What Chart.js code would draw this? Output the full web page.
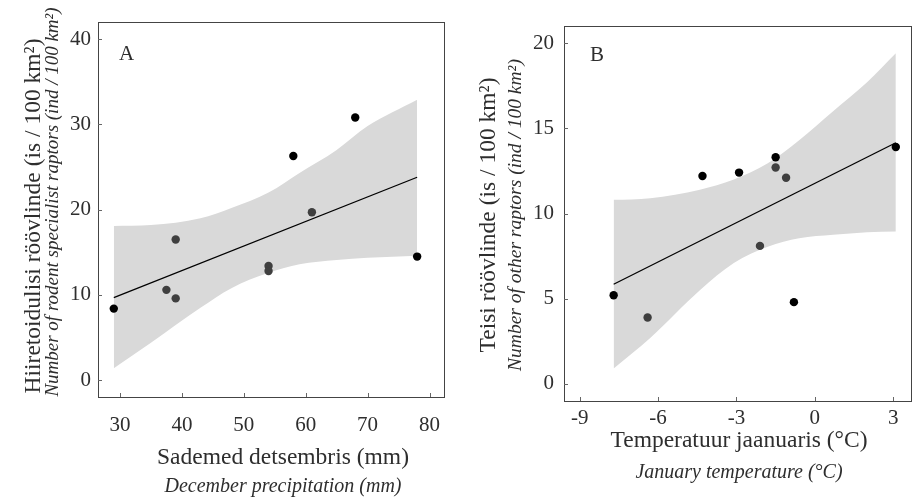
<!DOCTYPE html>
<html>
<head>
<meta charset="utf-8">
<script src="https://cdn.jsdelivr.net/npm/chart.js@4.4.1/dist/chart.umd.min.js"></script>
<style>
  html, body { margin: 0; padding: 0; background: #fff; }
  #wrap { position: relative; width: 912px; height: 502px; }
  canvas { position: absolute; top: 0; }
</style>
</head>
<body>
<div id="wrap">
  <canvas id="chartA" width="456" height="502" style="left:0"></canvas>
  <canvas id="chartB" width="456" height="502" style="left:456px"></canvas>
</div>
<script>
// Panel A: December precipitation vs rodent specialist raptors
const precipBlackX = [29, 58, 68, 78];
const precipBlackY = [8.4, 26.3, 30.8, 14.5];
const precipGreyX = [37.5, 39, 39, 54, 54, 61];
const precipGreyY = [10.6, 9.6, 16.5, 13.4, 12.8, 19.7];
const precipFitX = [29, 78];
const precipFitY = [9.7, 23.8];
const precipBandX = [29, 35, 43, 48, 54, 59, 65, 70, 78];
const precipBandUpper = [18.1, 18.2, 19.0, 20.2, 22.0, 24.3, 27.0, 29.8, 32.9];
const precipBandLower = [1.4, 4.4, 8.5, 10.8, 12.6, 13.6, 14.1, 14.35, 14.6];
const precipXTicks = [30, 40, 50, 60, 70, 80];
const precipYTicks = [0, 10, 20, 30, 40];

// Panel B: January temperature vs other raptors
const tempBlackX = [-7.7, -4.3, -2.9, -1.5, -0.8, 3.1];
const tempBlackY = [5.2, 12.2, 12.4, 13.3, 4.8, 13.9];
const tempGreyX = [-6.4, -2.1, -1.5, -1.1];
const tempGreyY = [3.9, 8.1, 12.7, 12.1];
const tempFitX = [-7.7, 3.1];
const tempFitY = [5.85, 14.15];
const tempBandX = [-7.7, -6.3, -4.4, -3.1, -1.8, -0.6, 0.7, 2.0, 3.1];
const tempBandUpper = [10.8, 10.9, 11.4, 12.0, 12.95, 14.3, 16.0, 17.7, 19.4];
const tempBandLower = [0.9, 2.7, 5.5, 7.1, 8.05, 8.55, 8.75, 8.9, 8.95];
const tempXTicks = [-9, -6, -3, 0, 3];
const tempYTicks = [0, 5, 10, 15, 20];

const SERIF = '"Liberation Serif", "DejaVu Serif", serif';
const TEXT = '#2e2e2e';

const pts = (xs, ys) => xs.map((x, i) => ({ x: x, y: ys[i] }));

// frame, inward ticks, axis titles and panel letter
const decor = {
  id: 'decor',
  afterDraw(chart, args, o) {
    const ctx = chart.ctx;
    const a = chart.chartArea;
    ctx.save();
    ctx.strokeStyle = '#444';
    ctx.lineWidth = 1;
    ctx.strokeRect(Math.round(a.left) + 0.5, Math.round(a.top) + 0.5,
      Math.round(a.right - a.left) - 1, Math.round(a.bottom - a.top));
    ctx.strokeStyle = '#666';
    ctx.beginPath();
    chart.scales.x.ticks.forEach(t => {
      const px = Math.round(chart.scales.x.getPixelForValue(t.value)) + 0.5;
      ctx.moveTo(px, a.bottom);
      ctx.lineTo(px, a.bottom - 4);
    });
    chart.scales.y.ticks.forEach(t => {
      const py = Math.round(chart.scales.y.getPixelForValue(t.value)) + 0.5;
      ctx.moveTo(a.left, py);
      ctx.lineTo(a.left + 4, py);
    });
    ctx.stroke();

    ctx.fillStyle = TEXT;
    ctx.textBaseline = 'alphabetic';
    ctx.textAlign = 'left';
    ctx.font = '21px ' + SERIF;
    ctx.fillText(o.letter, o.letterX, o.letterY);

    ctx.textAlign = 'center';
    ctx.font = '23.5px ' + SERIF;
    ctx.fillText(o.xTitle, o.xTitleX, o.xTitleY);
    ctx.font = 'italic 20px ' + SERIF;
    ctx.fillText(o.xSub, o.xTitleX, o.xSubY);

    ctx.save();
    ctx.translate(o.yTitleX, o.yTitleY);
    ctx.rotate(-Math.PI / 2);
    ctx.font = '23.5px ' + SERIF;
    ctx.fillText(o.yTitle, 0, 0);
    ctx.restore();
    ctx.save();
    ctx.translate(o.ySubX, o.ySubY);
    ctx.rotate(-Math.PI / 2);
    ctx.font = 'italic ' + o.ySubSize + 'px ' + SERIF;
    ctx.fillText(o.ySub, 0, 0);
    ctx.restore();
    ctx.restore();
  }
};

function makePanel(id, d) {
  return new Chart(document.getElementById(id), {
    type: 'scatter',
    data: {
      datasets: [
        { data: pts(d.blackX, d.blackY), backgroundColor: '#000', borderWidth: 0, pointRadius: 4.2 },
        { data: pts(d.greyX, d.greyY), backgroundColor: '#3f3f3f', borderWidth: 0, pointRadius: 4.2 },
        { data: pts(d.fitX, d.fitY), showLine: true, borderColor: '#000', borderWidth: 1.3, pointRadius: 0 },
        { data: pts(d.bandX, d.bandLower), showLine: true, borderWidth: 0, borderColor: 'rgba(0,0,0,0)',
          pointRadius: 0, cubicInterpolationMode: 'monotone', fill: false },
        { data: pts(d.bandX, d.bandUpper), showLine: true, borderWidth: 0, borderColor: 'rgba(0,0,0,0)',
          pointRadius: 0, cubicInterpolationMode: 'monotone', fill: '-1', backgroundColor: '#d9d9d9' }
      ]
    },
    options: {
      responsive: false,
      animation: false,
      events: [],
      layout: { padding: d.padding, autoPadding: false },
      plugins: { legend: { display: false }, tooltip: { enabled: false }, decor: d.decor },
      scales: {
        x: {
          type: 'linear', min: d.xMin, max: d.xMax,
          grid: { display: false, drawTicks: false },
          border: { display: false },
          afterBuildTicks: s => { s.ticks = d.xTicks.map(v => ({ value: v })); },
          afterFit: s => { s.height = d.xAxisHeight; s.paddingLeft = 0; s.paddingRight = 0; },
          ticks: { color: TEXT, font: { family: SERIF, size: 21 }, padding: d.xTickPad, maxRotation: 0 }
        },
        y: {
          type: 'linear', min: d.yMin, max: d.yMax,
          grid: { display: false, drawTicks: false },
          border: { display: false },
          afterBuildTicks: s => { s.ticks = d.yTicks.map(v => ({ value: v })); },
          afterFit: s => { s.width = d.yAxisWidth; s.paddingTop = 0; s.paddingBottom = 0; },
          ticks: { color: TEXT, font: { family: SERIF, size: 21 }, padding: d.yTickPad }
        }
      }
    },
    plugins: [decor]
  });
}

makePanel('chartA', {
  blackX: precipBlackX, blackY: precipBlackY, greyX: precipGreyX, greyY: precipGreyY,
  fitX: precipFitX, fitY: precipFitY,
  bandX: precipBandX, bandUpper: precipBandUpper, bandLower: precipBandLower,
  xTicks: precipXTicks, yTicks: precipYTicks,
  xMin: 26.45, xMax: 82.5, yMin: -1.96, yMax: 42,
  padding: { left: 0, top: 22, right: 11, bottom: 0 },
  yAxisWidth: 98, xAxisHeight: 105, xTickPad: 16, yTickPad: 7,
  decor: {
    letter: 'A', letterX: 119, letterY: 60,
    xTitle: 'Sademed detsembris (mm)', xSub: 'December precipitation (mm)',
    xTitleX: 283, xTitleY: 464, xSubY: 492,
    yTitle: 'Hiiretoidulisi röövlinde (is / 100 km²)',
    ySub: 'Number of rodent specialist raptors (ind / 100 km²)',
    yTitleX: 39.5, yTitleY: 216, ySubX: 57.5, ySubY: 202, ySubSize: 19
  }
});

makePanel('chartB', {
  blackX: tempBlackX, blackY: tempBlackY, greyX: tempGreyX, greyY: tempGreyY,
  fitX: tempFitX, fitY: tempFitY,
  bandX: tempBandX, bandUpper: tempBandUpper, bandLower: tempBandLower,
  xTicks: tempXTicks, yTicks: tempYTicks,
  xMin: -9.6, xMax: 3.7, yMin: -1.0, yMax: 21.0,
  padding: { left: 0, top: 26, right: 0.5, bottom: 0 },
  yAxisWidth: 108, xAxisHeight: 101, xTickPad: 5, yTickPad: 10,
  decor: {
    letter: 'B', letterX: 134, letterY: 61,
    xTitle: 'Temperatuur jaanuaris (°C)', xSub: 'January temperature (°C)',
    xTitleX: 283, xTitleY: 447, xSubY: 478,
    yTitle: 'Teisi röövlinde (is / 100 km²)',
    ySub: 'Number of other raptors (ind / 100 km²)',
    yTitleX: 38.5, yTitleY: 215, ySubX: 65, ySubY: 215, ySubSize: 19.5
  }
});
</script>
</body>
</html>
